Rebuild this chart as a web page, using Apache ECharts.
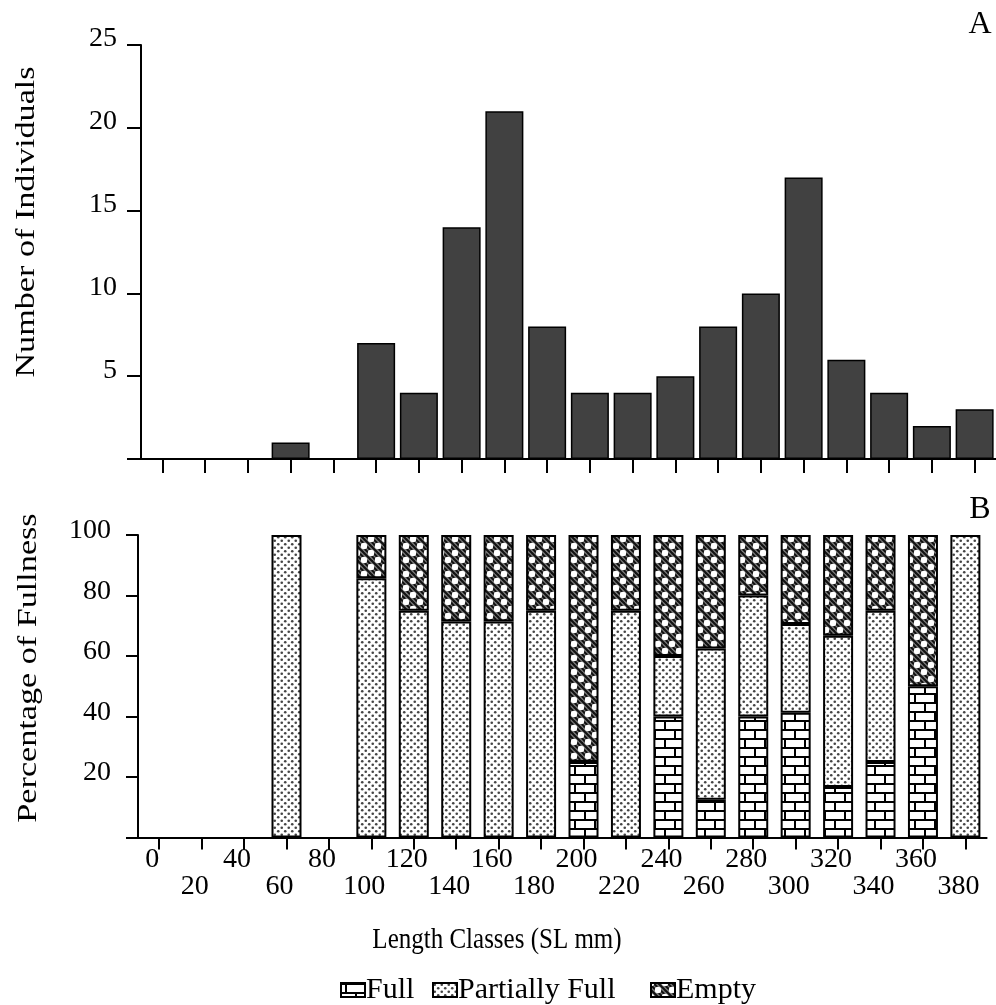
<!DOCTYPE html>
<html><head><meta charset="utf-8">
<script src="https://cdn.jsdelivr.net/npm/echarts@6/dist/echarts.min.js"></script>
<style>html,body{margin:0;padding:0;background:#fff}#c{width:996px;height:1005px}</style>
</head><body><div id="c"></div>
<script>
// ---- data ----
const categories = ['0','20','40','60','80','100','120','140','160','180','200','220','240','260','280','300','320','340','360','380'];
const individuals = [0,0,0,1,0,7,4,14,21,8,4,4,5,8,10,17,6,4,2,3];
const fullPct    = [0,0,0,0,0,0,0,0,0,0,25,0,40,12.5,40,41.2,16.7,25,50,0];
const partialPct = [0,0,0,100,0,85.7,75,71.4,71.4,75,0,75,20,50,40,29.4,50,50,0,100];
const emptyPct   = [0,0,0,0,0,14.3,25,28.6,28.6,25,75,25,40,37.5,20,29.4,33.3,25,50,0];
const legendNames = ['Full','Partially Full','Empty'];
const yTitleTop = 'Number of Individuals';
const yTitleBottom = 'Percentage of Fullness';
const xTitle = 'Length Classes (SL mm)';

// ---- patterns ----
function mk(w,h,draw){const c=document.createElement('canvas');c.width=w;c.height=h;const g=c.getContext('2d');draw(g,w,h);return c;}
const brick = mk(20,18,(g)=>{g.fillStyle='#fff';g.fillRect(0,0,20,18);g.fillStyle='#000';
  g.fillRect(0,0,20,2);g.fillRect(0,9,20,2);g.fillRect(4,0,2,9);g.fillRect(14,9,2,9);});
const dots = mk(7,7,(g)=>{g.fillStyle='#fff';g.fillRect(0,0,7,7);g.fillStyle='#444';
  g.beginPath();g.arc(1.75,1.75,1.3,0,7);g.fill();g.beginPath();g.arc(5.25,5.25,1.3,0,7);g.fill();});
const cross = mk(14,14,(g)=>{g.fillStyle='#111';g.fillRect(0,0,14,14);g.strokeStyle='#808080';g.lineWidth=1.2;
  for(let k=-14;k<=28;k+=4.67){g.beginPath();g.moveTo(k,0);g.lineTo(k+14,14);g.stroke();}
  g.fillStyle='#fff';[[0,0],[14,0],[0,14],[14,14],[7,7]].forEach(p=>{g.beginPath();g.arc(p[0],p[1],3.2,0,7);g.fill();});});
const pat = c => ({image:c, repeat:'repeat'});
const nz = a => a.map(v => v === 0 ? '-' : v);

const FONT = '"Liberation Serif", "DejaVu Serif", serif';
const axisLine = {show:true, lineStyle:{color:'#000', width:2}};
const txt = (text, x, y, size, extra) => Object.assign({type:'text', x:x, y:y, silent:true,
  style:{text:text, fontFamily:FONT, fontSize:size, fill:'#000', align:'center', verticalAlign:'middle',
    textAlign:'center', textVerticalAlign:'middle'}}, extra || {});
const legendLefts = [335, 427, 645];
const chart = echarts.init(document.getElementById('c'));
chart.setOption({
  animation:false,
  backgroundColor:'#fff',
  textStyle:{fontFamily:FONT, color:'#000'},
  graphic:[
    txt('A', 980, 25, 32),
    txt('B', 980, 510, 32),
    txt(xTitle, 497, 940, 25, {scaleY:1.2}),
    txt(yTitleTop, 27, 222, 28, {rotation:Math.PI/2, scaleX:1.22}),
    txt(yTitleBottom, 29, 668, 28, {rotation:Math.PI/2, scaleX:1.22})
  ],
  legend: legendNames.map((n,i)=>({data:[n], left:legendLefts[i], top:970, icon:'rect', itemWidth:24, itemHeight:14,
    textStyle:{fontFamily:FONT, fontSize:30, color:'#000', padding:[0,0,0,-4]}})),
  grid:[
    {left:141, top:45, height:414, right:-5},
    {left:138, top:535, height:302.5, right:-6}
  ],
  xAxis:[
    {type:'category', gridIndex:0, data:categories, boundaryGap:true, axisLine:axisLine,
      axisTick:{show:true, alignWithLabel:true, length:14, lineStyle:{width:2, color:'#000'}}, axisLabel:{show:false}, splitLine:{show:false}},
    {type:'category', gridIndex:1, data:categories, boundaryGap:true, axisLine:axisLine,
      axisTick:{show:true, alignWithLabel:true, length:12, lineStyle:{width:2, color:'#000'}},
      axisLabel:{show:true, interval:0, fontFamily:FONT, fontSize:28, color:'#000', margin:9, lineHeight:27, padding:[0,14,0,0],
        formatter:(v,i)=> i%2 ? '\n'+v : v}, splitLine:{show:false}}
  ],
  yAxis:[
    {type:'value', gridIndex:0, min:0, max:25, interval:5, axisLine:axisLine,
      axisTick:{show:true, length:14, lineStyle:{width:2, color:'#000'}}, splitLine:{show:false},
      axisLabel:{fontFamily:FONT, fontSize:28, color:'#000', margin:24, verticalAlign:'bottom', lineHeight:12, formatter:v=> v===0?'':v}},
    {type:'value', gridIndex:1, min:0, max:100, interval:20, axisLine:axisLine,
      axisTick:{show:true, length:12, lineStyle:{width:2, color:'#000'}}, splitLine:{show:false},
      axisLabel:{fontFamily:FONT, fontSize:28, color:'#000', margin:27, verticalAlign:'bottom', lineHeight:8, formatter:v=> v===0?'':v}}
  ],
  series:[
    {type:'bar', name:'Individuals', xAxisIndex:0, yAxisIndex:0, data:individuals, barWidth:38,
      itemStyle:{color:'#414141', borderColor:'#000', borderWidth:1.5}},
    {type:'bar', name:'Full', xAxisIndex:1, yAxisIndex:1, stack:'p', data:nz(fullPct), barWidth:30,
      itemStyle:{color:pat(brick), borderColor:'#000', borderWidth:2}},
    {type:'bar', name:'Partially Full', xAxisIndex:1, yAxisIndex:1, stack:'p', data:nz(partialPct), barWidth:30,
      itemStyle:{color:pat(dots), borderColor:'#000', borderWidth:2}},
    {type:'bar', name:'Empty', xAxisIndex:1, yAxisIndex:1, stack:'p', data:nz(emptyPct), barWidth:30,
      itemStyle:{color:pat(cross), borderColor:'#000', borderWidth:2}}
  ]
});
</script></body></html>
